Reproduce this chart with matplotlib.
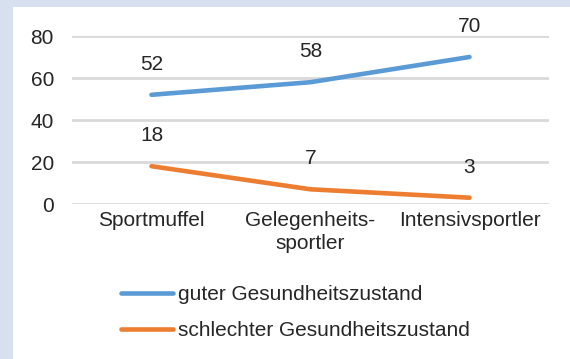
import matplotlib.pyplot as plt
from matplotlib.patches import Rectangle

# Gesundheitszustand nach Sportverhalten (Anteile in %)
kategorien = ["Sportmuffel", "Gelegenheits-\nsportler", "Intensivsportler"]
gut = [52, 58, 70]
schlecht = [18, 7, 3]
serien = ["guter Gesundheitszustand", "schlechter Gesundheitszustand"]
yticks = [0, 20, 40, 60, 80]

W, H = 570, 359
plt.rcParams['font.family'] = ['Liberation Sans', 'DejaVu Sans']
textfarbe = '#262626'
fs = 15

fig = plt.figure(figsize=(W / 100, H / 100), dpi=100, facecolor='#D7E0EF')
fig.patches.append(Rectangle((13 / W, 0), 1, 1 - 7 / H, transform=fig.transFigure,
                             facecolor='white', edgecolor='none', zorder=-1))

ax = fig.add_axes([72 / W, 1 - 204 / H, (549 - 72) / W, (204 - 36) / H])
ax.set_facecolor('none')

x = range(len(kategorien))
l1, = ax.plot(x, gut, color='#5B9BD5', lw=3.3, solid_capstyle='round', zorder=3)
l2, = ax.plot(x, schlecht, color='#ED7D31', lw=3.3, solid_capstyle='round', zorder=3)

for werte in (gut, schlecht):
    for i, v in enumerate(werte):
        ax.annotate(str(v), (i, v), xytext=(0, 22), textcoords='offset points',
                    ha='center', va='center', fontsize=fs, color=textfarbe)

ax.set_xlim(-0.5, 2.5)
ax.set_ylim(0, 80)
ax.set_yticks(yticks)
ax.set_xticks(list(x))
ax.set_xticklabels(kategorien, linespacing=1.3)
ax.tick_params(axis='both', length=0, labelsize=fs, labelcolor=textfarbe)
ax.tick_params(axis='y', pad=13)
ax.tick_params(axis='x', pad=5)
ax.grid(axis='y', color='#D9D9D9', lw=2)
ax.set_axisbelow(True)
for s in ax.spines.values():
    s.set_visible(False)

fig.legend([l1, l2], serien, loc='upper left', bbox_to_anchor=(113 / W, 1 - 277 / H),
           frameon=False, fontsize=fs, handlelength=2.5, handletextpad=0.2,
           labelspacing=0.82, labelcolor=textfarbe, borderaxespad=0)

fig.savefig('out.png', dpi=100, facecolor=fig.get_facecolor())
